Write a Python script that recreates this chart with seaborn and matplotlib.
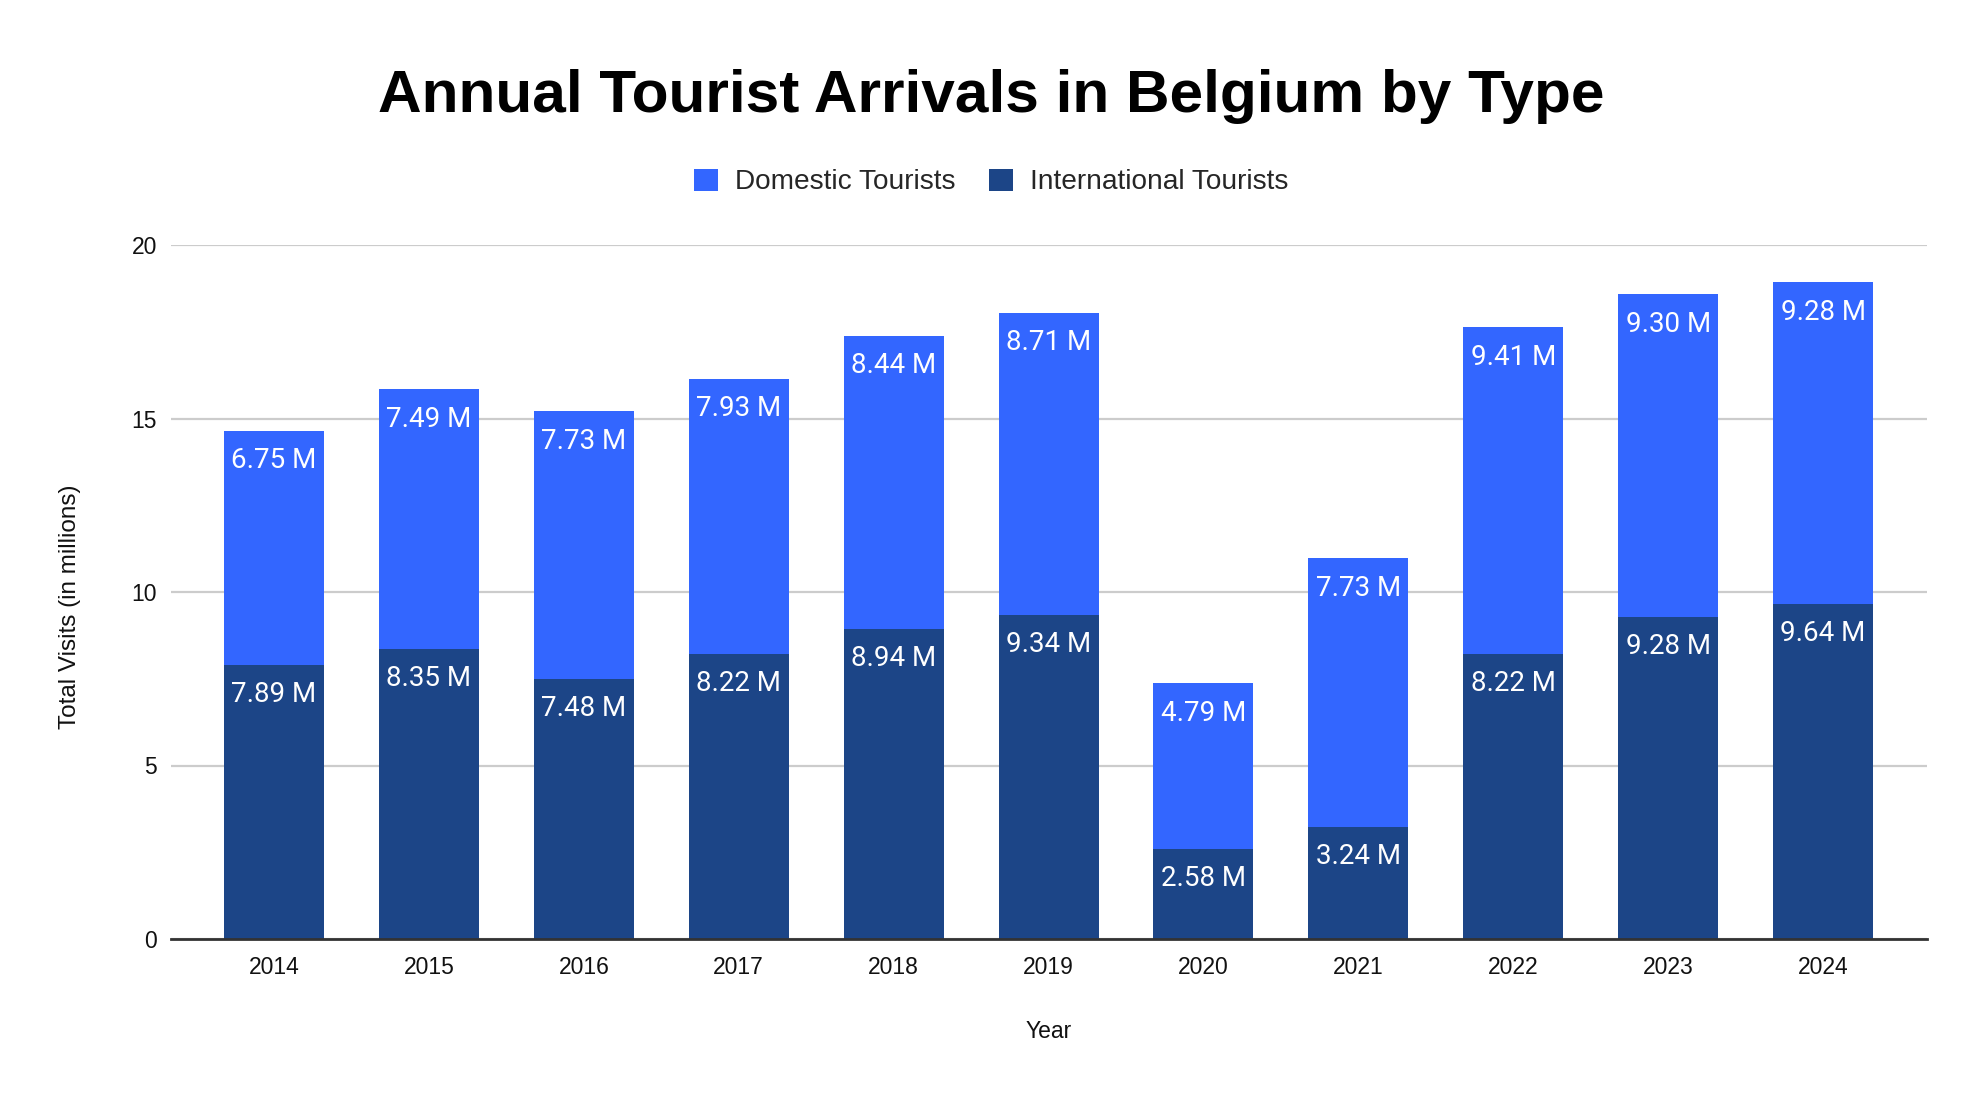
import matplotlib
matplotlib.use("Agg")
import matplotlib.pyplot as plt
import seaborn as sns
import pandas as pd
from matplotlib.patches import Patch

years = ["2014", "2015", "2016", "2017", "2018", "2019", "2020", "2021", "2022", "2023", "2024"]
international = [7.89, 8.35, 7.48, 8.22, 8.94, 9.34, 2.58, 3.24, 8.22, 9.28, 9.64]
domestic = [6.75, 7.49, 7.73, 7.93, 8.44, 8.71, 4.79, 7.73, 9.41, 9.30, 9.28]
y_ticks = [0, 5, 10, 15, 20]

DOM_COLOR = "#3366ff"
INT_COLOR = "#1c4587"

sns.set_theme(style="white")
plt.rcParams["font.family"] = ["Liberation Sans", "DejaVu Sans"]

df = pd.DataFrame({"Year": years, "International": international, "Domestic": domestic})
df["Total"] = df["International"] + df["Domestic"]

fig = plt.figure(figsize=(19.82, 10.98), dpi=100)
ax = fig.add_axes([171 / 1982, 1 - 939 / 1098, (1927 - 171) / 1982, (939 - 245) / 1098])

bw = 0.646
sns.barplot(data=df, x="Year", y="Total", color=DOM_COLOR, width=bw, ax=ax,
            saturation=1, zorder=3, linewidth=0)
sns.barplot(data=df, x="Year", y="International", color=INT_COLOR, width=bw, ax=ax,
            saturation=1, zorder=4, linewidth=0)

ax.set_ylim(0, 20)
ax.set_xlim(-0.665, 10.671)
ax.set_yticks(y_ticks)
ax.set_yticklabels([str(t) for t in y_ticks])
ax.yaxis.grid(True, color="#cccccc", linewidth=1.6, zorder=0)
ax.xaxis.grid(False)
for s in ["top", "right", "left"]:
    ax.spines[s].set_visible(False)
ax.spines["bottom"].set_color("#333333")
ax.spines["bottom"].set_linewidth(2)
ax.spines["bottom"].set_zorder(5)
ax.tick_params(axis="both", length=0, labelsize=16.5, colors="#111111")
ax.tick_params(axis="x", pad=12.5)
ax.tick_params(axis="y", pad=10)
ax.set_xlabel("")
ax.set_ylabel("")

# data labels
lab_font = ["Roboto", "DejaVu Sans"]
for i in range(len(years)):
    tot = international[i] + domestic[i]
    ax.annotate(f"{domestic[i]:.2f} M", xy=(i, tot), xytext=(0, -16.5), textcoords="offset pixels",
                ha="center", va="top", color="white", fontsize=20, family=lab_font, zorder=6)
    ax.annotate(f"{international[i]:.2f} M", xy=(i, international[i]), xytext=(0, -16), textcoords="offset pixels",
                ha="center", va="top", color="white", fontsize=20, family=lab_font, zorder=6)

fig.text(0.5, 1 - 112 / 1098, "Annual Tourist Arrivals in Belgium by Type", ha="center", va="baseline",
         fontsize=43.5, fontweight="bold", color="black")

handles = [Patch(facecolor=DOM_COLOR, edgecolor="none"), Patch(facecolor=INT_COLOR, edgecolor="none")]
fig.legend(handles, ["Domestic Tourists", "International Tourists"], loc="center",
           bbox_to_anchor=(0.5, 1 - 182 / 1098), ncol=2, frameon=False, fontsize=20.2,
           handlelength=0.85, handleheight=0.85, handletextpad=0.6, columnspacing=1.2)

fig.text(70 / 1982, 1 - 607 / 1098, "Total Visits (in millions)", rotation=90, ha="center", va="center",
         fontsize=17.5, color="#111111")
fig.text(1049 / 1982, 1 - 1031 / 1098, "Year", ha="center", va="center", fontsize=16.5, color="#111111")

fig.savefig("out.png", dpi=100)
